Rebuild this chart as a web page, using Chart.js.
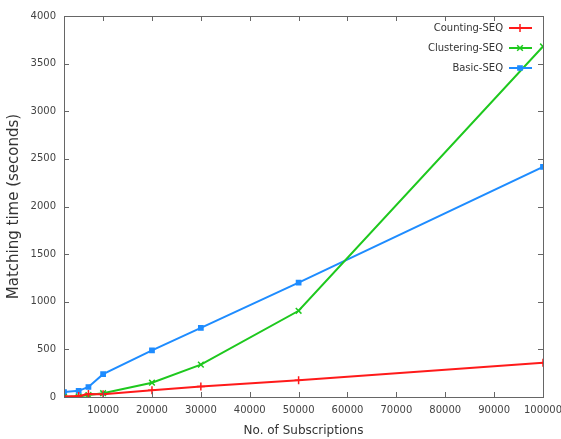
<!DOCTYPE html>
<html lang="en">
<head>
  <meta charset="UTF-8" />
  <title>Matching time</title>
  <script src="https://cdn.jsdelivr.net/npm/chart.js"></script>
  <style>
    html, body {
      margin: 0;
      padding: 0;
      background: #fff;
    }
    #wrap {
      width: 561px;
      height: 439px;
    }
  </style>
</head>
<body>
  <div id="wrap"><canvas id="chart" width="561" height="439"></canvas></div>

  <script>
    // data
    const subscriptions = [2000, 5000, 7000, 10000, 20000, 30000, 50000, 100000];
    const countingSeq = [5, 10, 32, 28, 70, 110, 175, 360];
    const clusteringSeq = [0, 5, 20, 40, 150, 340, 905, 3680];
    const basicSeq = [52, 65, 105, 240, 490, 725, 1200, 2415];
    const xTicks = [10000, 20000, 30000, 40000, 50000, 60000, 70000, 80000, 90000, 100000];
    const yTicks = [0, 500, 1000, 1500, 2000, 2500, 3000, 3500, 4000];

    const FONT = "'DejaVu Sans', Verdana, sans-serif";

    function series(label, values, color, style) {
      return {
        label: label,
        data: subscriptions.map((x, i) => ({ x: x, y: values[i] })),
        borderColor: color,
        backgroundColor: color,
        borderWidth: 2,
        pointStyle: style,
        pointRadius: style === "rect" ? 3 : 4,
        pointBorderWidth: 1.5,
        tension: 0,
        fill: false
      };
    }

    // frame with gnuplot-like inward ticks, plus the legend in the top right
    const framePlugin = {
      id: "frame",
      afterDatasetsDraw(chart) {
        const ctx = chart.ctx;
        const a = chart.chartArea;
        const xs = chart.scales.x;
        const ys = chart.scales.y;
        ctx.save();
        ctx.strokeStyle = "#666";
        ctx.lineWidth = 1;
        ctx.strokeRect(a.left + 0.5, a.top + 0.5, a.right - a.left, a.bottom - a.top);
        ctx.beginPath();
        xTicks.forEach(v => {
          const px = Math.round(xs.getPixelForValue(v)) + 0.5;
          ctx.moveTo(px, a.bottom); ctx.lineTo(px, a.bottom - 5);
          ctx.moveTo(px, a.top); ctx.lineTo(px, a.top + 5);
        });
        yTicks.forEach(v => {
          const py = Math.round(ys.getPixelForValue(v)) + 0.5;
          ctx.moveTo(a.left, py); ctx.lineTo(a.left + 5, py);
          ctx.moveTo(a.right, py); ctx.lineTo(a.right - 5, py);
        });
        ctx.stroke();

        // legend
        ctx.font = "10px " + FONT;
        ctx.textAlign = "right";
        ctx.textBaseline = "middle";
        chart.data.datasets.forEach((ds, i) => {
          const y = 28 + i * 20;
          ctx.fillStyle = "#333";
          ctx.fillText(ds.label, 503, y);
          ctx.strokeStyle = ds.borderColor;
          ctx.lineWidth = 2;
          ctx.beginPath();
          ctx.moveTo(509, y); ctx.lineTo(532, y);
          ctx.stroke();
          ctx.fillStyle = ds.borderColor;
          ctx.lineWidth = 1.5;
          Chart.helpers.drawPoint(ctx, {
            pointStyle: ds.pointStyle,
            radius: ds.pointRadius,
            rotation: 0,
            borderWidth: 1.5
          }, 520, y);
        });
        ctx.restore();
      }
    };

    const ctx = document.getElementById("chart").getContext("2d");
    new Chart(ctx, {
      type: "line",
      data: {
        datasets: [
          series("Counting-SEQ", countingSeq, "#ff1a1a", "cross"),
          series("Clustering-SEQ", clusteringSeq, "#1ec81e", "crossRot"),
          series("Basic-SEQ", basicSeq, "#1e8cff", "rect")
        ]
      },
      options: {
        responsive: false,
        animation: false,
        layout: { padding: { top: 16, right: 0, left: 0, bottom: 0 } },
        plugins: {
          legend: { display: false },
          tooltip: { enabled: false }
        },
        scales: {
          x: {
            type: "linear",
            min: 2000,
            max: 100000,
            afterBuildTicks: s => { s.ticks = xTicks.map(v => ({ value: v })); },
            afterFit: s => { s.height = 42; s.paddingRight = 18; s.paddingLeft = 0; },
            grid: { drawOnChartArea: false, drawTicks: false, display: false },
            border: { display: false },
            ticks: {
              padding: 7,
              color: "#444",
              font: { family: FONT, size: 10 },
              maxRotation: 0,
              autoSkip: false,
              callback: v => String(v)
            },
            title: {
              display: true,
              text: "No. of Subscriptions",
              color: "#333",
              font: { family: FONT, size: 12 },
              padding: { top: 0, bottom: 1 }
            }
          },
          y: {
            min: 0,
            max: 4000,
            afterBuildTicks: s => { s.ticks = yTicks.map(v => ({ value: v })); },
            afterFit: s => { s.width = 64; },
            grid: { drawOnChartArea: false, drawTicks: false, display: false },
            border: { display: false },
            ticks: {
              padding: 8,
              color: "#444",
              font: { family: FONT, size: 10 },
              callback: v => String(v)
            },
            title: {
              display: true,
              text: "Matching time (seconds)",
              color: "#333",
              font: { family: FONT, size: 15 },
              padding: { top: 5, bottom: 0 }
            }
          }
        }
      },
      plugins: [framePlugin]
    });
  </script>
</body>
</html>
